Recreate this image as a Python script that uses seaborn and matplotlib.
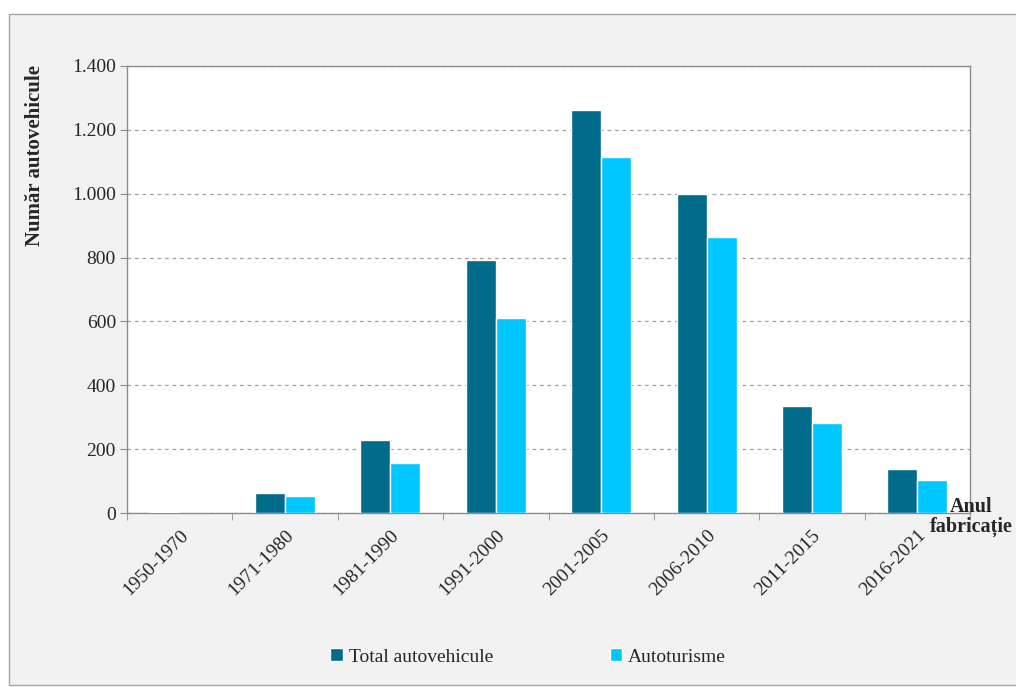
import matplotlib
matplotlib.use("Agg")
import matplotlib.pyplot as plt
import matplotlib.ticker as mticker
from matplotlib.patches import Rectangle
import seaborn as sns
import pandas as pd

perioade = ["1950-1970", "1971-1980", "1981-1990", "1991-2000",
            "2001-2005", "2006-2010", "2011-2015", "2016-2021"]
total_autovehicule = [3, 62, 228, 792, 1262, 999, 335, 138]
autoturisme = [1, 53, 156, 611, 1115, 864, 282, 103]
serii = ["Total autovehicule", "Autoturisme"]
culori = ["#006b8a", "#00c8ff"]

df = pd.DataFrame({
    "perioada": perioade * 2,
    "valoare": total_autovehicule + autoturisme,
    "serie": [serii[0]] * len(perioade) + [serii[1]] * len(perioade),
})

sns.set_style("white")
plt.rcParams["font.family"] = ["Liberation Serif", "DejaVu Serif"]

fig = plt.figure(figsize=(10.16, 6.87), dpi=100)
fig.patch.set_facecolor("white")
fig.patches.append(Rectangle((9 / 1016, 2 / 687), 1.0, 671 / 687, transform=fig.transFigure,
                             facecolor="#f2f2f2", edgecolor="#a6a6a6", lw=1, zorder=-10))

ax = fig.add_axes([127 / 1016, 1 - 513 / 687, 843 / 1016, 447 / 687])
ax.set_facecolor("white")
sns.barplot(data=df, x="perioada", y="valoare", hue="serie", palette=culori,
            width=0.57, saturation=1, ax=ax, legend=True, zorder=3)

ax.set_ylim(0, 1400)
ax.set_xlim(-0.5, len(perioade) - 0.5)
ax.set_yticks(range(0, 1401, 200))
ax.yaxis.set_major_formatter(mticker.FuncFormatter(lambda v, p: f"{int(v):,}".replace(",", ".")))
ax.yaxis.grid(True, linestyle=(0, (3, 3)), color="#a0a0a0", lw=0.9, zorder=0)
ax.set_axisbelow(True)

ax.set_xticks(range(len(perioade)))
ax.set_xticklabels(perioade, rotation=45, ha="right", rotation_mode="anchor", fontsize=14)
ax.tick_params(axis="x", which="major", length=0, pad=10)
ax.set_xticks([i - 0.5 for i in range(len(perioade) + 1)], minor=True)
ax.tick_params(axis="x", which="minor", length=5, color="#8c8c8c", direction="out", bottom=True)
ax.tick_params(axis="y", length=5, color="#8c8c8c", direction="out", left=True, labelsize=14, pad=3)

for s in ax.spines.values():
    s.set_color("#8c8c8c")
    s.set_linewidth(1)

ax.set_xlabel("")
ax.set_ylabel("")
fig.text(35 / 1016, 1 - 156 / 687, "Număr autovehicule", rotation=90, ha="center", va="center",
         fontsize=15, fontweight="bold")
fig.text(971 / 1016, 1 - 517 / 687, "Anul\nfabricație", ha="center", va="center",
         multialignment="center", fontsize=14.5, fontweight="bold", linespacing=1.05)

ax.legend(loc="center", bbox_to_anchor=(0.476, -0.322), ncol=2, frameon=False,
          fontsize=14, handlelength=0.65, handleheight=0.65, handletextpad=0.3,
          columnspacing=6.0)

fig.savefig("out.png", dpi=100, facecolor=fig.get_facecolor())
